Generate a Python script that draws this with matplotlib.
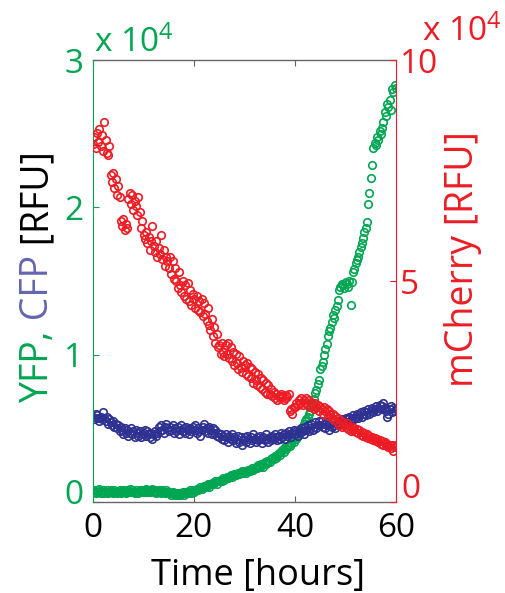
import numpy as np
import matplotlib
matplotlib.use("Agg")
import matplotlib.pyplot as plt
from matplotlib.transforms import ScaledTranslation

plt.rcParams['font.family'] = ['Open Sans', 'DejaVu Sans']
plt.rcParams['mathtext.fontset'] = 'custom'
plt.rcParams['mathtext.rm'] = 'Open Sans'
plt.rcParams['mathtext.default'] = 'regular'

# one reading every 15 min, 0..60 h (20 readings per row = 5 h)
time_step_h = 0.25

# YFP (x 1e4 RFU, left axis)
yfp = [
    0.08, 0.07, 0.06, 0.08, 0.07, 0.09, 0.06, 0.07, 0.08, 0.06, 0.07, 0.08, 0.06, 0.07, 0.08, 0.07, 0.06, 0.08, 0.07, 0.06,
    0.07, 0.08, 0.06, 0.07, 0.08, 0.07, 0.06, 0.08, 0.07, 0.09, 0.07, 0.08, 0.07, 0.06, 0.08, 0.07, 0.06, 0.08, 0.07, 0.08,
    0.07, 0.08, 0.09, 0.07, 0.08, 0.07, 0.08, 0.09, 0.07, 0.08, 0.06, 0.07, 0.08, 0.07, 0.06, 0.08, 0.07, 0.06, 0.08, 0.07,
    0.07, 0.06, 0.05, 0.07, 0.06, 0.05, 0.06, 0.05, 0.06, 0.05, 0.06, 0.07, 0.05, 0.06, 0.07, 0.06, 0.07, 0.08, 0.06, 0.08,
    0.07, 0.08, 0.09, 0.08, 0.09, 0.10, 0.09, 0.10, 0.11, 0.10, 0.11, 0.12, 0.10, 0.12, 0.13, 0.12, 0.13, 0.14, 0.12, 0.14,
    0.14, 0.15, 0.14, 0.16, 0.15, 0.16, 0.17, 0.16, 0.17, 0.18, 0.17, 0.18, 0.19, 0.18, 0.19, 0.20, 0.19, 0.20, 0.21, 0.20,
    0.21, 0.20, 0.21, 0.22, 0.21, 0.22, 0.23, 0.22, 0.23, 0.24, 0.23, 0.25, 0.24, 0.26, 0.25, 0.24, 0.27, 0.26, 0.28, 0.27,
    0.27, 0.29, 0.30, 0.29, 0.31, 0.30, 0.32, 0.33, 0.32, 0.34, 0.35, 0.34, 0.37, 0.36, 0.38, 0.39, 0.38, 0.40, 0.42, 0.41,
    0.44, 0.43, 0.46, 0.47, 0.49, 0.48, 0.51, 0.53, 0.55, 0.56, 0.58, 0.60, 0.62, 0.65, 0.67, 0.70, 0.74, 0.76, 0.80, 0.83,
    0.90, 0.92, 0.95, 1.00, 1.04, 1.07, 1.13, 1.16, 1.18, 1.22, 1.27, 1.25, 1.30, 1.33, 1.37, 1.44, 1.46, 1.48, 1.47, 1.45,
    1.49, 1.48, 1.46, 1.50, 1.34, 1.49, 1.56, 1.58, 1.62, 1.64, 1.66, 1.70, 1.73, 1.76, 1.79, 1.83, 1.86, 1.90, 2.02, 2.10,
    2.20, 2.29, 2.40, 2.44, 2.42, 2.48, 2.46, 2.52, 2.50, 2.54, 2.58, 2.65, 2.62, 2.70, 2.68, 2.73, 2.66, 2.80, 2.78, 2.83,
    2.81,
]

# CFP (x 1e4 RFU, left axis)
cfp = [
    0.58, 0.56, 0.60, 0.59, 0.57, 0.55, 0.58, 0.56, 0.61, 0.57, 0.55, 0.58, 0.53, 0.56, 0.54, 0.52, 0.55, 0.51, 0.53, 0.50,
    0.52, 0.48, 0.51, 0.49, 0.46, 0.50, 0.47, 0.49, 0.45, 0.47, 0.50, 0.46, 0.48, 0.44, 0.49, 0.47, 0.45, 0.48, 0.44, 0.46,
    0.47, 0.49, 0.45, 0.48, 0.46, 0.44, 0.47, 0.43, 0.46, 0.48, 0.45, 0.47, 0.51, 0.48, 0.52, 0.49, 0.47, 0.51, 0.53, 0.50,
    0.48, 0.51, 0.49, 0.52, 0.47, 0.50, 0.48, 0.51, 0.46, 0.49, 0.52, 0.48, 0.50, 0.47, 0.51, 0.49, 0.46, 0.50, 0.48, 0.51,
    0.49, 0.52, 0.47, 0.50, 0.48, 0.45, 0.49, 0.51, 0.53, 0.48, 0.50, 0.47, 0.51, 0.49, 0.46, 0.50, 0.47, 0.49, 0.45, 0.47,
    0.44, 0.46, 0.43, 0.45, 0.42, 0.46, 0.44, 0.41, 0.45, 0.43, 0.46, 0.42, 0.44, 0.40, 0.43, 0.45, 0.41, 0.44, 0.39, 0.42,
    0.44, 0.41, 0.45, 0.43, 0.40, 0.44, 0.42, 0.46, 0.43, 0.41, 0.44, 0.42, 0.45, 0.43, 0.40, 0.44, 0.42, 0.46, 0.43, 0.41,
    0.44, 0.42, 0.45, 0.43, 0.46, 0.44, 0.42, 0.45, 0.43, 0.47, 0.44, 0.46, 0.43, 0.47, 0.45, 0.48, 0.46, 0.44, 0.47, 0.49,
    0.46, 0.48, 0.45, 0.49, 0.47, 0.50, 0.48, 0.46, 0.51, 0.49, 0.52, 0.48, 0.50, 0.53, 0.49, 0.51, 0.54, 0.50, 0.52, 0.55,
    0.52, 0.55, 0.51, 0.53, 0.50, 0.54, 0.52, 0.49, 0.53, 0.51, 0.54, 0.52, 0.50, 0.53, 0.55, 0.52, 0.54, 0.56, 0.53, 0.55,
    0.57, 0.54, 0.56, 0.58, 0.55, 0.57, 0.59, 0.56, 0.58, 0.60, 0.57, 0.59, 0.61, 0.58, 0.60, 0.62, 0.59, 0.61, 0.63, 0.60,
    0.62, 0.64, 0.61, 0.63, 0.65, 0.62, 0.64, 0.66, 0.63, 0.65, 0.67, 0.64, 0.62, 0.58, 0.60, 0.63, 0.65, 0.61, 0.64, 0.62,
    0.63,
]

# mCherry (x 1e4 RFU, right axis)
mcherry = [
    8.10, 8.25, 8.00, 8.35, 8.15, 8.45, 8.05, 8.30, 7.95, 8.60, 8.20, 7.90, 7.85, 8.05, 7.40, 7.25, 7.45, 7.10, 7.30, 6.95,
    7.15, 6.90, 6.35, 6.25, 6.40, 6.15, 6.30, 6.20, 6.85, 7.00, 6.75, 6.95, 6.60, 6.80, 6.70, 6.50, 6.90, 6.55, 6.20, 6.35,
    6.05, 5.95, 6.10, 5.85, 6.00, 5.70, 5.90, 6.25, 5.80, 5.65, 5.90, 5.55, 5.75, 5.60, 6.05, 5.50, 5.70, 5.35, 5.55, 5.45,
    5.30, 5.55, 5.15, 5.45, 5.05, 5.30, 5.00, 4.85, 5.20, 4.90, 4.75, 5.00, 4.65, 4.90, 4.60, 4.95, 4.55, 4.80, 4.45, 4.70,
    4.60, 4.40, 4.65, 4.35, 4.55, 4.30, 4.60, 4.20, 4.50, 4.25, 4.10, 4.40, 4.00, 3.90, 4.15, 3.75, 3.95, 3.60, 3.80, 3.50,
    3.55, 3.35, 3.60, 3.40, 3.30, 3.55, 3.35, 3.60, 3.25, 3.50, 3.20, 3.40, 3.10, 3.35, 3.15, 3.00, 3.30, 3.05, 2.95, 3.20,
    3.10, 2.90, 3.15, 2.85, 3.05, 2.80, 3.00, 2.70, 2.95, 2.75, 2.65, 2.90, 2.60, 2.80, 2.55, 2.75, 2.50, 2.70, 2.45, 2.65,
    2.45, 2.55, 2.40, 2.50, 2.35, 2.45, 2.30, 2.40, 2.35, 2.45, 2.40, 2.30, 2.35, 2.42, 2.38, 2.45, 2.05, 2.10, 2.00, 2.15,
    2.15, 2.25, 2.20, 2.30, 2.25, 2.35, 2.20, 2.30, 2.25, 2.35, 2.20, 2.30, 2.15, 2.25, 2.20, 2.10, 2.25, 2.15, 2.20, 2.05,
    2.15, 2.10, 2.00, 2.15, 2.05, 2.10, 1.95, 2.05, 2.00, 1.90, 2.00, 1.85, 1.95, 1.80, 1.90, 1.75, 1.85, 1.70, 1.80, 1.75,
    1.70, 1.78, 1.65, 1.72, 1.60, 1.70, 1.62, 1.68, 1.58, 1.65, 1.55, 1.62, 1.52, 1.58, 1.50, 1.56, 1.48, 1.53, 1.45, 1.50,
    1.42, 1.48, 1.40, 1.45, 1.38, 1.42, 1.35, 1.40, 1.32, 1.38, 1.30, 1.35, 1.28, 1.32, 1.25, 1.30, 1.22, 1.28, 1.15, 1.25,
    1.30,
]

x_ticks = [0, 20, 40, 60]
left_ticks = [0, 1, 2, 3]
right_ticks = [0, 5, 10]

green = '#00A651'
blue = '#2E3192'
blue_text = '#6366B0'
red = '#ED1C24'
grey = '#666666'

W, H = 505, 593
fig = plt.figure(figsize=(W / 100, H / 100), dpi=100)
ax = fig.add_axes([93 / W, 1 - 502 / H, 303 / W, 442 / H])
ax2 = ax.twinx()

mk = dict(linestyle='none', marker='o', markersize=5.4, markerfacecolor='none',
          markeredgewidth=1.2)
ax.plot(np.arange(len(yfp)) * time_step_h, yfp, color=green, **mk)
ax.plot(np.arange(len(cfp)) * time_step_h, cfp, color=blue, **mk)
ax2.plot(np.arange(len(mcherry)) * time_step_h, mcherry, color=red, **mk)

ax.set_xlim(0, 60)
ax.set_ylim(0, 3)
ax2.set_ylim(0, 10)
ax.set_xticks(x_ticks)
ax.set_yticks(left_ticks)
ax2.set_yticks(right_ticks)
# the zero labels sit a little above their ticks in the original
ax.set_yticklabels([''] + [str(v) for v in left_ticks[1:]])
ax2.set_yticklabels([''] + [str(v) for v in right_ticks[1:]])

ax.tick_params(axis='x', direction='in', top=True, length=4, width=0.8,
               color=grey, labelsize=24, labelcolor='black', pad=7)
ax.tick_params(axis='y', direction='in', right=False, length=4, width=0.8,
               color=green, labelsize=24, labelcolor=green, pad=7)
ax2.tick_params(axis='y', direction='in', length=4, width=0.8,
                color=red, labelsize=24, labelcolor=red, pad=3)

ax.text(0, 0, '0', color=green, fontsize=24, ha='right', va='center',
        transform=ax.transAxes + ScaledTranslation(-0.10, 0.06, fig.dpi_scale_trans))
ax2.text(1, 0, '0', color=red, fontsize=24, ha='left', va='center',
         transform=ax2.transAxes + ScaledTranslation(0.05, 0.12, fig.dpi_scale_trans))

for s in ['top', 'bottom']:
    ax.spines[s].set_color(grey)
    ax.spines[s].set_linewidth(1.0)
ax.spines['left'].set_color(green)
ax.spines['left'].set_linewidth(0.8)
ax.spines['right'].set_visible(False)
for s in ['left', 'top', 'bottom']:
    ax2.spines[s].set_visible(False)
ax2.spines['right'].set_color(red)
ax2.spines['right'].set_linewidth(0.8)

# exponent labels, MATLAB style
fig.text(94 / W, 1 - 52 / H, 'x 10$^4$', color=green, fontsize=24,
         ha='left', va='baseline')
fig.text(422 / W, 1 - 41 / H, 'x 10$^4$', color=red, fontsize=24,
         ha='left', va='baseline')

fig.text(258 / W, 1 - 585 / H, 'Time [hours]', fontsize=26,
         ha='center', va='baseline')

# left label in three colours, stacked bottom to top
renderer = fig.canvas.get_renderer()
y_px = 403
for part, col in [('YFP,', green), (' CFP', blue_text), (' [RFU]', 'black')]:
    t = fig.text(48 / W, 1 - y_px / H, part, color=col, fontsize=27,
                 rotation=90, rotation_mode='anchor', ha='left', va='baseline')
    y_px -= t.get_window_extent(renderer).height

fig.text(473 / W, 1 - 387 / H, 'mCherry [RFU]', color=red, fontsize=27,
         rotation=90, rotation_mode='anchor', ha='left', va='baseline')

fig.savefig('out.png', dpi=100)
